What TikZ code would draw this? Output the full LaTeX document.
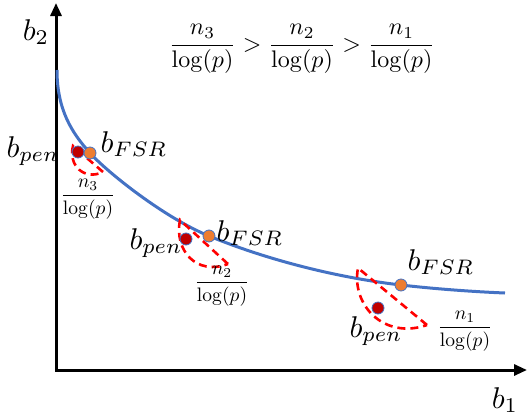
\documentclass[tikz,border=0pt]{standalone}
\usepackage{amsmath}
\usetikzlibrary{arrows.meta}
\definecolor{cblue}{HTML}{4472C4}
\definecolor{corange}{HTML}{ED7D31}
\definecolor{cdred}{HTML}{C00000}
\definecolor{cred}{HTML}{FF0000}
\tikzset{
  axis/.style={line width=3pt,{Triangle[length=13pt,width=11pt]}-{Triangle[length=13pt,width=11pt]}},
  front/.style={line width=3pt,cblue},
  fsr/.style={circle,fill=corange,draw=cblue,line width=0.8pt,minimum size=12pt,inner sep=0pt},
  pen/.style={circle,fill=cdred,draw=cblue,line width=0.8pt,minimum size=12pt,inner sep=0pt},
  region/.style={cred,line width=2.6pt,dash pattern=on 8pt off 5pt},
  blab/.style={inner sep=0pt,scale=3.0},
  flab/.style={inner sep=0pt,scale=1.95},
  tlab/.style={inner sep=0pt,scale=2.4}
}
\begin{document}
\begin{tikzpicture}[x=1pt,y=-1pt]
\useasboundingbox (0,0) rectangle (530,418);
% axes
\coordinate (o) at (56,370);
\coordinate (ytip) at (56,3);
\coordinate (xtip) at (527,370);
\draw[axis] (ytip) -- (o) -- (xtip);
\node[blab] (b2) at (36,32) {$b_2$};
\node[blab] (b1) at (505,400) {$b_1$};
% front curve
\draw[front] (57,70) .. controls (57,110) and (72,133) .. (90,153)
  .. controls (108,173) and (165,218) .. (209,236)
  .. controls (270,261) and (340,278) .. (401,285)
  .. controls (440,289.5) and (480,292) .. (505,293);
% regions
\coordinate (r1a) at (73,146);
\coordinate (r1b) at (103,172);
\draw[region] (r1b) -- (r1a) .. controls (68,165) and (84,181) .. (r1b);
\coordinate (r2a) at (180,220);
\coordinate (r2b) at (228,264);
\draw[region] (r2b) -- (r2a) .. controls (174,250) and (196,276) .. (r2b);
\coordinate (r3a) at (358,268);
\coordinate (r3b) at (427,325);
\draw[region] (r3b) -- (r3a) .. controls (351,305) and (384,340) .. (r3b);
% points
\node[pen] (p1) at (78,152) {};
\node[fsr] (f1) at (90,153) {};
\node[pen] (p2) at (186,239) {};
\node[fsr] (f2) at (209,236) {};
\node[pen] (p3) at (378,308) {};
\node[fsr] (f3) at (401,285) {};
% labels
\node[blab] (lp1) at (33,151) {$b_{pen}$};
\node[blab] (lf1) at (134,144) {$b_{FSR}$};
\node[flab] (n3) at (88,199) {$\dfrac{n_3}{\log(p)}$};
\node[blab] (lp2) at (156,243) {$b_{pen}$};
\node[blab] (lf2) at (250,233) {$b_{FSR}$};
\node[flab] (n2) at (222,286) {$\dfrac{n_2}{\log(p)}$};
\node[blab] (lf3) at (441,262) {$b_{FSR}$};
\node[blab] (lp3) at (376,331) {$b_{pen}$};
\node[flab] (n1) at (465,331) {$\dfrac{n_1}{\log(p)}$};
\node[tlab] (top) at (302,49) {$\dfrac{n_3}{\log(p)}>\dfrac{n_2}{\log(p)}>\dfrac{n_1}{\log(p)}$};
\end{tikzpicture}
\end{document}
